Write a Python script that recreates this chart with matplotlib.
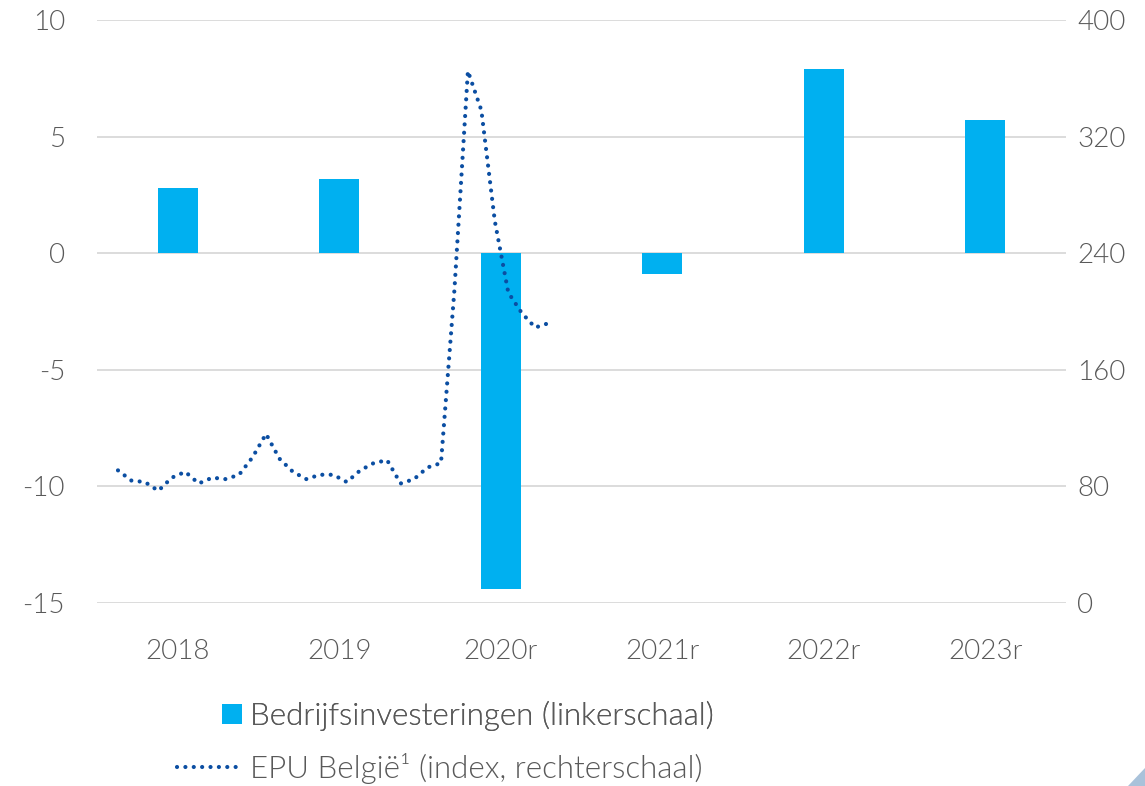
import numpy as np
import matplotlib.pyplot as plt
from matplotlib.lines import Line2D
from matplotlib.patches import Patch, Polygon

# data
years = ["2018", "2019", "2020r", "2021r", "2022r", "2023r"]
invest = [2.8, 3.2, -14.4, -0.9, 7.9, 5.7]

# EPU Belgie, monthly from early 2018 (index)
epu = [91, 84, 83, 77, 86, 90, 82, 86, 85, 88, 100, 116, 99, 90, 85, 88, 88,
       83, 91, 96, 98, 82, 85, 93, 96, 215, 365, 338, 262, 213, 199, 189, 192]
epu_start = -0.37   # position of first month on category axis

left_ticks = [-15, -10, -5, 0, 5, 10]
left_labels = ["-15", "-10", "-5", "0", "5", "10"]
right_ticks = [0, 80, 160, 240, 320, 400]

BAR_COLOR = "#00B0F0"
LINE_COLOR = "#0B4EA2"
TEXT_COLOR = "#595959"
GRID_COLOR = "#D9D9D9"

plt.rcParams["font.family"] = ["Lato", "DejaVu Sans"]
plt.rcParams["font.weight"] = 300

fig = plt.figure(figsize=(11.45, 7.86), dpi=100)
ax = fig.add_axes([0.0847, 0.2328, 0.8463, 0.7418])
ax2 = ax.twinx()

x = np.arange(len(years))
ax.bar(x, invest, width=0.25, color=BAR_COLOR, zorder=2)
ax.set_xlim(-0.5, len(years) - 0.5)
ax.set_ylim(-15, 10)
ax.set_yticks(left_ticks)
ax.set_yticklabels(left_labels)
ax.set_xticks(x)
ax.set_xticklabels(years)
ax.grid(axis="y", color=GRID_COLOR, linewidth=1.3, zorder=0)
ax.set_axisbelow(True)

ex = epu_start + np.arange(len(epu)) / 12.0
ax2.plot(ex, epu, color=LINE_COLOR, linewidth=3.0,
         linestyle=(0, (0.01, 2.0)), dash_capstyle="round", zorder=3)
ax2.set_ylim(0, 400)
ax2.set_yticks(right_ticks)

for a in (ax, ax2):
    for s in a.spines.values():
        s.set_visible(False)
    a.tick_params(length=0, labelsize=20, labelcolor=TEXT_COLOR)
ax.tick_params(axis="x", pad=26)
ax.tick_params(axis="y", pad=23)
ax2.tick_params(axis="y", pad=8)
for lbl in ax.get_xticklabels() + ax.get_yticklabels() + ax2.get_yticklabels():
    lbl.set_fontweight(300)

# legends
leg1 = fig.legend(handles=[Patch(facecolor=BAR_COLOR)],
                  labels=["Bedrijfsinvesteringen (linkerschaal)"],
                  loc="center left", bbox_to_anchor=(0.1939, 0.089),
                  frameon=False, fontsize=22.5, handlelength=0.64, handleheight=0.64,
                  handletextpad=0.26, borderpad=0, borderaxespad=0,
                  labelcolor=TEXT_COLOR)
leg2 = fig.legend(handles=[Line2D([0], [0], color=LINE_COLOR, linewidth=3.0,
                                  linestyle=(0, (0.01, 2.0)), dash_capstyle="round")],
                  labels=["EPU België¹ (index, rechterschaal)"],
                  loc="center left", bbox_to_anchor=(0.1545, 0.0229),
                  frameon=False, fontsize=22.5, handlelength=2.1,
                  handletextpad=0.25, borderpad=0, borderaxespad=0,
                  labelcolor=TEXT_COLOR)
fig.add_artist(leg1)

# corner triangle
fig.add_artist(Polygon([[0.985, 0.0], [1.0, 0.0], [1.0, 0.023]], closed=True,
                       transform=fig.transFigure, facecolor="#A9C2DA",
                       edgecolor="none"))

fig.savefig("out.png", dpi=100)
